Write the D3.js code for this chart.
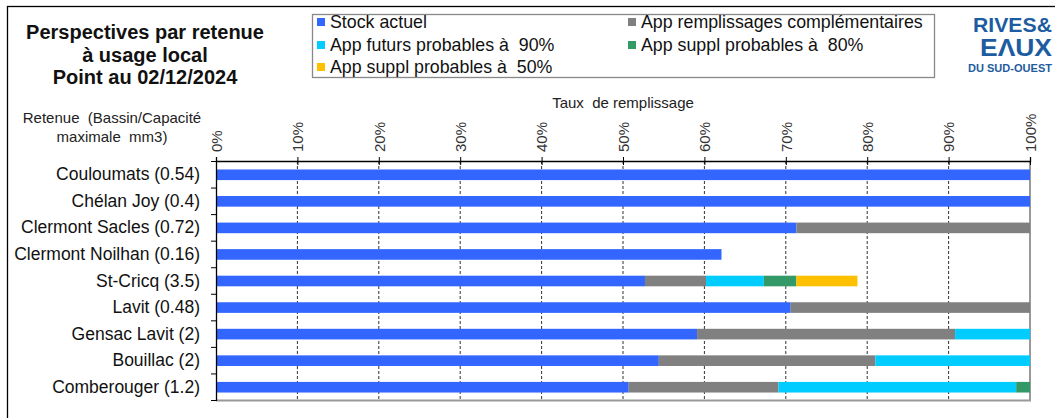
<!DOCTYPE html>
<html>
<head>
<meta charset="utf-8">
<script src="https://cdnjs.cloudflare.com/ajax/libs/d3/7.8.5/d3.min.js"></script>
<style>
  body { margin: 0; background: #fff; }
  text { font-family: "Liberation Sans", Arial, sans-serif; white-space: pre; }
</style>
</head>
<body>
<div id="graph"></div>
<script>
// retenues (bassin / capacité max mm3)
var categories = ["Couloumats (0.54)", "Chélan Joy (0.4)", "Clermont Sacles (0.72)", "Clermont Noilhan (0.16)",
  "St-Cricq (3.5)", "Lavit (0.48)", "Gensac Lavit (2)", "Bouillac (2)", "Comberouger (1.2)"];

// taux de remplissage en %, par composante
var stockActuel   = [100, 100, 71.3, 62.1, 52.7, 70.6, 59.1, 54.4, 50.7];
var appRemplComp  = [0, 0, 28.7, 0, 7.5, 29.4, 31.7, 26.6, 18.4];
var appFuturs90   = [0, 0, 0, 0, 7.1, 0, 9.2, 19.0, 29.2];
var appSuppl80    = [0, 0, 0, 0, 4.0, 0, 0, 0, 1.7];
var appSuppl50    = [0, 0, 0, 0, 7.5, 0, 0, 0, 0];

var seriesNames = ["Stock actuel", "App remplissages complémentaires", "App futurs probables à  90%",
  "App suppl probables à  80%", "App suppl probables à  50%"];
var seriesColors = ["#3366ff", "#808080", "#00ccff", "#339966", "#ffc000"];
var xTicks = [0, 10, 20, 30, 40, 50, 60, 70, 80, 90, 100];

var rows = categories.map(function(c, i) {
  return { cat: c, s0: stockActuel[i], s1: appRemplComp[i], s2: appFuturs90[i], s3: appSuppl80[i], s4: appSuppl50[i] };
});
var keys = ["s0", "s1", "s2", "s3", "s4"];

var width = 1055, height = 418;
var svg = d3.select("#graph").append("svg")
  .attr("width", width)
  .attr("height", height);

// cadre
svg.append("rect")
  .attr("x", 7.5).attr("y", 6.5)
  .attr("width", 1100).attr("height", 500)
  .attr("fill", "none").attr("stroke", "#000").attr("stroke-width", 1.3);

// titre
var title = svg.append("text")
  .attr("text-anchor", "middle")
  .attr("font-weight", "bold")
  .attr("font-size", 20)
  .attr("fill", "#111");
["Perspectives par retenue", "à usage local", "Point au 02/12/2024"].forEach(function(t, i) {
  title.append("tspan").attr("x", 145).attr("y", 39 + i * 22.5).text(t);
});

// en-tête des retenues
var head = svg.append("text")
  .attr("text-anchor", "middle")
  .attr("font-size", 15)
  .attr("fill", "#222");
head.append("tspan").attr("x", 112).attr("y", 123).text("Retenue  (Bassin/Capacité");
head.append("tspan").attr("x", 112).attr("y", 142).text("maximale  mm3)");

var x = d3.scaleLinear().domain([0, 100]).range([216, 1030]);
var y = d3.scaleBand().domain(categories).range([161.5, 400.5]).paddingInner(0.6).paddingOuter(0.3);

// grille
svg.append("g")
  .selectAll("line")
  .data(xTicks.slice(1, -1))
  .join("line")
  .attr("x1", function(d) { return x(d); })
  .attr("x2", function(d) { return x(d); })
  .attr("y1", 161).attr("y2", 400)
  .attr("stroke", "#333")
  .attr("stroke-dasharray", "3,2");

// bordures droite et basse
svg.append("line").attr("x1", x(100)).attr("x2", x(100)).attr("y1", 161).attr("y2", 401)
  .attr("stroke", "#999").attr("stroke-width", 2);
svg.append("line").attr("x1", 216).attr("x2", x(100) + 1).attr("y1", 400.5).attr("y2", 400.5)
  .attr("stroke", "#999").attr("stroke-width", 2);

// barres empilées
var stacked = d3.stack().keys(keys)(rows);
svg.append("g")
  .selectAll("g")
  .data(stacked)
  .join("g")
  .attr("fill", function(d, i) { return seriesColors[i]; })
  .selectAll("rect")
  .data(function(d) { return d.filter(function(p) { return p[1] > p[0]; }); })
  .join("rect")
  .attr("x", function(d) { return x(d[0]); })
  .attr("width", function(d) { return x(d[1]) - x(d[0]); })
  .attr("y", function(d) { return y(d.data.cat); })
  .attr("height", y.bandwidth());

// axe du haut
var xAxis = svg.append("g")
  .attr("transform", "translate(0,161)")
  .call(d3.axisTop(x).tickValues(xTicks).tickSize(4).tickFormat(function(d) { return d + "%"; }));
xAxis.select(".domain").attr("stroke", "#000").attr("stroke-width", 1.3);
xAxis.selectAll(".tick line").attr("y2", -4).attr("y1", 4).attr("stroke", "#000");
xAxis.selectAll(".tick text")
  .attr("font-family", "Liberation Sans, Arial, sans-serif")
  .attr("font-size", 15)
  .attr("fill", "#333")
  .attr("transform", "rotate(-90)")
  .attr("text-anchor", "start")
  .attr("x", 9)
  .attr("y", 0)
  .attr("dy", "0.35em");

svg.append("text")
  .attr("x", 623).attr("y", 108)
  .attr("text-anchor", "middle")
  .attr("font-size", 15)
  .attr("fill", "#222")
  .text("Taux  de remplissage");

// axe gauche
var yAxis = svg.append("g")
  .attr("transform", "translate(216,0)")
  .call(d3.axisLeft(y).tickSize(0).tickPadding(16));
yAxis.select(".domain").attr("stroke", "#000").attr("stroke-width", 1.3);
yAxis.selectAll(".tick text")
  .attr("font-family", "Liberation Sans, Arial, sans-serif")
  .attr("font-size", 17.5)
  .attr("fill", "#111");
// petites graduations entre les catégories
var step = y.step();
var sepY = function(i) {
  return i === 0 ? 161.5 : y(categories[i - 1]) + y.bandwidth() + step * y.paddingInner() / 2;
};
svg.append("g")
  .selectAll("line")
  .data(d3.range(categories.length + 1))
  .join("line")
  .attr("x1", 211).attr("x2", 216)
  .attr("y1", sepY)
  .attr("y2", sepY)
  .attr("stroke", "#000");

// légende
var lg = svg.append("g");
lg.append("rect").attr("x", 312.5).attr("y", 14.5).attr("width", 622).attr("height", 63)
  .attr("fill", "#fff").attr("stroke", "#888").attr("stroke-width", 1.3);
var legPos = [[317, 22], [628, 22], [317, 45], [628, 45], [317, 67]];
lg.selectAll("g")
  .data(d3.range(seriesNames.length))
  .join("g")
  .attr("transform", function(d, i) { return "translate(" + legPos[i][0] + "," + legPos[i][1] + ")"; })
  .each(function(d) {
    var g = d3.select(this);
    g.append("rect").attr("x", 0).attr("y", -4).attr("width", 8).attr("height", 8).attr("fill", seriesColors[d]);
    g.append("text").attr("x", 13).attr("y", 0).attr("dy", "0.35em")
      .attr("font-size", 17.8).attr("fill", "#111").text(seriesNames[d]);
  });

// logo
var logo = svg.append("g").attr("fill", "#1d5ca0").attr("font-weight", "bold");
logo.append("text").attr("x", 973).attr("y", 32).attr("font-size", 20)
  .attr("textLength", 79).attr("lengthAdjust", "spacingAndGlyphs").text("RIVES&");
logo.append("text").attr("x", 980).attr("y", 56).attr("font-size", 23)
  .attr("textLength", 72).attr("lengthAdjust", "spacingAndGlyphs").text("EΛUX");
logo.append("text").attr("x", 968).attr("y", 72).attr("font-size", 10)
  .attr("textLength", 84).attr("lengthAdjust", "spacingAndGlyphs").text("DU SUD-OUEST");
</script>
</body>
</html>
